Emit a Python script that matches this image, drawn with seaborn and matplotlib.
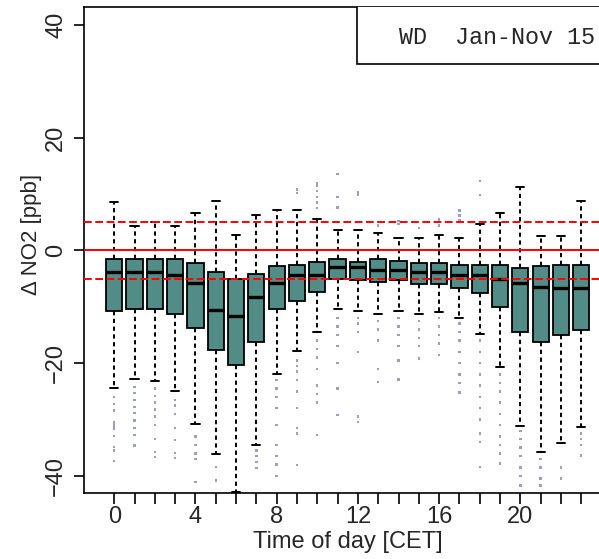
import matplotlib
matplotlib.use("Agg")
import matplotlib.pyplot as plt
from matplotlib.patches import Rectangle
import seaborn as sns
import pandas as pd

# ---- data ----
hours = list(range(24))
whis_hi = [8.6, 4.4, 5.0, 4.4, 6.6, 8.8, 2.8, 6.2, 7.2, 7.2, 5.6, 3.7,
           3.7, 3.1, 2.2, 2.2, 2.8, 2.2, 4.7, 6.6, 11.3, 2.6, 2.6, 8.8]
q3 = [-1.5, -1.6, -1.5, -1.5, -2.2, -3.8, -5.0, -4.1, -2.8, -2.5, -2.0, -1.5,
      -2.0, -1.5, -1.9, -2.2, -2.2, -2.5, -2.5, -2.5, -3.1, -2.8, -2.5, -2.5]
med = [-3.8, -3.8, -3.8, -4.3, -5.8, -10.5, -11.7, -8.3, -5.8, -4.4, -4.3, -3.0,
       -3.0, -3.4, -3.4, -3.8, -3.8, -4.3, -4.3, -5.1, -5.8, -6.4, -6.7, -6.7]
q1 = [-10.7, -10.4, -10.4, -11.2, -13.8, -17.6, -20.3, -16.3, -10.4, -8.9, -7.3, -5.0,
      -5.3, -5.6, -5.3, -6.0, -6.0, -6.6, -7.6, -10.1, -14.5, -16.3, -15.0, -14.1]
whis_lo = [-24.4, -22.9, -23.2, -25.0, -30.8, -36.1, -42.8, -34.6, -21.9, -17.9, -14.5, -10.4,
           -10.7, -11.2, -10.7, -11.2, -10.9, -12.0, -14.9, -20.7, -31.1, -35.8, -34.2, -31.4]
outliers = [
    [-26.0, -27.2, -28.4, -30.5, -31.1, -31.6, -32.9, -34.9, -35.5, -37.4],
    [-24.2, -25.3, -26.5, -27.8, -28.9, -30.2, -31.5, -32.8, -34.6],
    [-24.5, -25.8, -27.0, -28.2, -29.5, -31.0, -33.5, -35.8, -36.7],
    [-26.5, -27.5, -29.0, -31.5, -33.6, -35.9, -36.8],
    [-33.0, -34.5, -36.0, -37.0, -41.1],
    [-38.4, -40.8],
    [],
    [-35.5, -36.5, -37.5, -38.6],
    [-23.0, -24.5, -26.0, -28.0, -31.0, -34.5, -36.5, -38.0, -40.0],
    [10.2, 10.8, -19.5, -20.5, -21.5, -23.0, -25.0, -28.0, -31.5, -32.5, -38.1],
    [7.5, 8.5, 9.5, 10.5, 11.5, 12.0, -16.0, -17.5, -19.0, -21.0, -24.0, -25.5, -27.0, -32.7],
    [7.6, 9.5, 13.6, -12.0, -13.5, -15.0, -17.0, -20.0, -24.5, -29.2],
    [9.9, 10.4, -12.0, -13.0, -14.5, -18.0, -29.5, -30.4],
    [4.4, 5.0, -12.5, -14.0, -16.0, -21.0, -23.3],
    [4.7, 5.2, -12.0, -13.5, -15.0, -17.0, -19.5, -22.9],
    [4.0, -12.5, -14.0, -15.5, -17.0, -19.2],
    [4.4, 5.5, -12.0, -13.5, -15.0, -16.5, -18.6],
    [5.3, 6.2, 7.1, -13.0, -14.5, -16.0, -18.0, -20.0, -22.0, -23.5, -25.2],
    [9.8, 12.3, -16.0, -18.0, -20.0, -22.0, -24.0, -26.0, -28.0, -30.0, -32.5, -34.0, -38.4],
    [-22.0, -23.5, -25.0, -27.0, -29.0, -31.0, -33.0, -34.5, -36.0, -37.8],
    [-32.0, -33.5, -35.0, -36.5, -38.5, -40.0, -41.7],
    [-37.0, -38.5, -40.5, -41.7],
    [-38.5, -40.5],
    [-32.5, -33.5, -34.5, -36.4],
]
ref_lines = [0, 5, -5]
xtick_labels = ["0", "", "", "", "4", "", "", "", "8", "", "", "", "12", "", "", "",
                "16", "", "", "", "20", "", "", ""]
yticks = [-40, -20, 0, 20, 40]
ytick_labels = ["\u221240", "\u221220", "0", "20", "40"]
legend_text = "WD  Jan-Nov 15"

# ---- style ----
sns.set_style("ticks")
plt.rcParams["font.family"] = ["Liberation Sans", "DejaVu Sans"]

fig = plt.figure(figsize=(5.99, 5.59), dpi=100)
ax = fig.add_axes([0.1402, 0.1175, 0.8807, 0.870])

stats = []
for i, h in enumerate(hours):
    stats.append(dict(med=med[i], q1=q1[i], q3=q3[i], whislo=whis_lo[i],
                      whishi=whis_hi[i], fliers=[], label=str(h)))

box_color = "#518C87"
ax.bxp(stats, positions=hours, widths=0.8, capwidths=0.4, patch_artist=True,
       showfliers=False,
       boxprops=dict(facecolor=box_color, edgecolor="black", linewidth=1.3),
       medianprops=dict(color="black", linewidth=2.4, solid_capstyle="butt"),
       whiskerprops=dict(color="black", linewidth=1.4, linestyle=(0, (2.2, 1.8))),
       capprops=dict(color="black", linewidth=1.4))

fl_x, fl_y = [], []
for h, vals in zip(hours, outliers):
    fl_x += [h] * len(vals)
    fl_y += vals
df_fl = pd.DataFrame({"hour": fl_x, "value": fl_y})
sns.scatterplot(data=df_fl, x="hour", y="value", ax=ax, s=3, marker="s",
                color="#9a9fbd", edgecolor="none", linewidth=0, zorder=1)

for v in ref_lines:
    if v == 0:
        ax.axhline(v, color="red", linewidth=1.4, zorder=5)
    else:
        ax.axhline(v, color="red", linewidth=1.4, linestyle=(0, (4.0, 1.8)), zorder=5)

ax.set_xlim(-1.49, 24.49)
ax.set_ylim(-43.1, 43.2)
ax.set_xticks(hours)
ax.set_xticklabels(xtick_labels, fontsize=17)
ax.set_yticks(yticks)
ax.set_yticklabels(ytick_labels, fontsize=17, rotation=90, va="center")
ax.tick_params(axis="x", length=8, width=1.2, pad=1, color="black")
ax.tick_params(axis="y", length=7, width=1.2, pad=5, color="black")
for s in ax.spines.values():
    s.set_linewidth(1.2)
    s.set_color("black")

ax.set_xlabel("Time of day [CET]", fontsize=17)
ax.set_ylabel("\u0394 NO2 [ppb]", fontsize=16)
ax.xaxis.set_label_coords(0.5, -0.077)
ax.yaxis.set_label_coords(-0.080, 0.533)

# legend-like box
ax.add_patch(Rectangle((0.5175, 0.8828), 0.6, 0.2, transform=ax.transAxes,
                       facecolor="white", edgecolor="black", linewidth=1.2,
                       zorder=6, clip_on=True))
fig.text(399 / 599, 1 - 38 / 559, legend_text, fontsize=16.8,
         family=["Liberation Mono", "DejaVu Sans Mono"], ha="left", va="center",
         zorder=7)

fig.savefig("out.png", dpi=100)
